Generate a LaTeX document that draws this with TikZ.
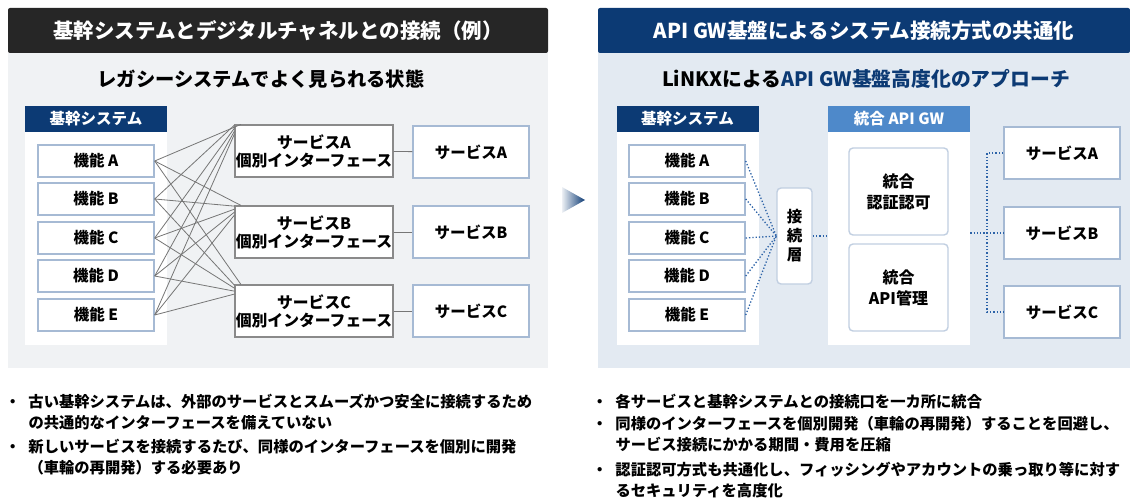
\documentclass[tikz,border=0pt]{standalone}
\usepackage{fontspec}
\setmainfont{Noto Sans CJK JP}
\usepackage{xcolor}
\usetikzlibrary{positioning, calc}

\definecolor{titledark}{HTML}{262626}
\definecolor{navy}{HTML}{0C3A74}
\definecolor{gwblue}{HTML}{4E89CA}
\definecolor{leftbg}{HTML}{F0F2F4}
\definecolor{rightbg}{HTML}{E3EAF2}
\definecolor{boxline}{HTML}{A6BAD4}
\definecolor{ifline}{HTML}{8A8A8A}
\definecolor{wire}{HTML}{767676}
\definecolor{dotblue}{HTML}{2D63A8}

\newcommand{\jfs}[1]{\fontsize{#1}{#1}\selectfont}

\begin{document}
\begin{tikzpicture}[x=1pt, y=-1pt,
    titlebar/.style={fill=#1, rounded corners=2pt, minimum height=45pt, text=white, font=\jfs{20.5}\bfseries},
    tag/.style={fill=#1, minimum width=142pt, minimum height=26pt, text=white, font=\jfs{15.5}\bfseries, inner sep=0pt},
    column/.style={fill=white, minimum width=142pt, minimum height=213pt, inner sep=0pt},
    func/.style={draw=boxline, line width=1.4pt, fill=white, minimum width=116pt, minimum height=32pt, font=\jfs{15.5}\bfseries},
    iface/.style={draw=ifline, line width=1.2pt, fill=white, minimum width=158pt, minimum height=52pt, align=center, inner sep=0pt, font=\fontsize{15.8}{18}\selectfont\bfseries},
    service/.style={draw=boxline, line width=1.4pt, fill=white, minimum width=116pt, minimum height=52pt, font=\jfs{15.5}\bfseries},
    soft/.style={draw=boxline!70, line width=1.4pt, fill=white, rounded corners=4pt, align=center},
    wires/.style={draw=wire, line width=0.8pt},
    dots/.style={draw=dotblue, line width=1.3pt, dotted},
    bullets/.style={anchor=north west, inner sep=0pt, font=\fontsize{15.3}{20.5}\selectfont\bfseries}
  ]
  \useasboundingbox (0,0) rectangle (1130,503);

  % panels
  \fill[leftbg] (8,50) rectangle (548,368);
  \fill[rightbg] (598,50) rectangle (1130,368);
  \node[titlebar=titledark, minimum width=540pt] (titleL) at (278,30.5) {基幹システムとデジタルチャネルとの接続（例）};
  \node[titlebar=navy, minimum width=532pt] (titleR) at (864,30.5) {API GW基盤によるシステム接続方式の共通化};
  \node[font=\jfs{19.3}\bfseries] (subL) at (261,79) {レガシーシステムでよく見られる状態};
  \node[font=\jfs{19.8}\bfseries] (subR) at (866,79) {LiNKXによる\textcolor{navy}{API GW基盤高度化のアプローチ}};

  % left side
  \node[column] (colL) at (96,238.5) {};
  \node[tag=navy] (tagL) at (96,119) {基幹システム};
  \node[func] (fA) at (96,161) {機能 A};
  \node[func] (fB) at (96,199) {機能 B};
  \node[func] (fC) at (96,238) {機能 C};
  \node[func] (fD) at (96,276) {機能 D};
  \node[func] (fE) at (96,315) {機能 E};

  \node[iface] (ifA) at (314,151) {サービスA\\個別インターフェース};
  \node[iface] (ifB) at (314,232) {サービスB\\個別インターフェース};
  \node[iface] (ifC) at (314,311) {サービスC\\個別インターフェース};

  \node[service] (svA) at (471,152) {サービスA};
  \node[service] (svB) at (471,232) {サービスB};
  \node[service] (svC) at (471,311) {サービスC};

  \foreach \f/\a in {fA/160, fB/162, fC/164, fD/166, fE/168}
    \foreach \i in {ifA, ifB, ifC}
      \draw[wires] (\f.east) -- (\i.\a);
  \foreach \i/\s in {ifA/svA, ifB/svB, ifC/svC}
    \draw[wires] (\i) -- (\s);

  % arrow
  \shade[left color=navy!8, right color=navy] (562,187) -- (585,200) -- (562,213) -- cycle;

  % right side
  \node[column] (colR) at (687.5,238.5) {};
  \node[tag=navy] (tagR) at (687.5,119) {基幹システム};
  \node[func] (gA) at (687,161) {機能 A};
  \node[func] (gB) at (687,199) {機能 B};
  \node[func] (gC) at (687,238) {機能 C};
  \node[func] (gD) at (687,276) {機能 D};
  \node[func] (gE) at (687,315) {機能 E};

  \node[soft, minimum width=35pt, minimum height=96pt, inner sep=0pt, font=\fontsize{15.5}{19}\selectfont\bfseries] (conn) at (794.5,236) {接\\続\\層};

  \node[column] (gwcol) at (899,238.5) {};
  \node[tag=gwblue] (tagGW) at (899,119) {統合 API GW};
  \node[soft, minimum width=99pt, minimum height=87pt, font=\fontsize{16}{21}\selectfont\bfseries] (auth) at (898.5,191.5) {統合\\認証認可};
  \node[soft, minimum width=99pt, minimum height=87pt, font=\fontsize{16}{21}\selectfont\bfseries] (apim) at (898.5,287.5) {統合\\API管理};

  \node[service] (tA) at (1062,153) {サービスA};
  \node[service] (tB) at (1062,233) {サービスB};
  \node[service] (tC) at (1062,312) {サービスC};

  \foreach \g in {gA, gB, gC, gD, gE}
    \draw[dots] (\g.east) -- (conn.west);
  \draw[dots] (conn.east) -- (gwcol.west |- conn.east);
  \coordinate (hub) at (987,233);
  \draw[dots] (gwcol.east |- hub) -- (tB.west);
  \draw[dots] (tA.west) -| (hub) |- (tC.west);

  % notes
  \node[bullets] (noteL1) at (5,393) {\begin{tabular}{@{}l@{\hspace{8pt}}l@{}}・ & 古い基幹システムは、外部のサービスとスムーズかつ安全に接続するため\\ & の共通的なインターフェースを備えていない\end{tabular}};
  \node[bullets] (noteL2) at (5,438) {\begin{tabular}{@{}l@{\hspace{8pt}}l@{}}・ & 新しいサービスを接続するたび、同様のインターフェースを個別に開発\\ & （車輪の再開発）する必要あり\end{tabular}};
  \node[bullets] (noteR1) at (592,393) {\begin{tabular}{@{}l@{\hspace{8pt}}l@{}}・ & 各サービスと基幹システムとの接続口を一カ所に統合\end{tabular}};
  \node[bullets] (noteR2) at (592,415) {\begin{tabular}{@{}l@{\hspace{8pt}}l@{}}・ & 同様のインターフェースを個別開発（車輪の再開発）することを回避し、\\ & サービス接続にかかる期間・費用を圧縮\end{tabular}};
  \node[bullets] (noteR3) at (592,461) {\begin{tabular}{@{}l@{\hspace{8pt}}l@{}}・ & 認証認可方式も共通化し、フィッシングやアカウントの乗っ取り等に対す\\ & るセキュリティを高度化\end{tabular}};
\end{tikzpicture}
\end{document}
